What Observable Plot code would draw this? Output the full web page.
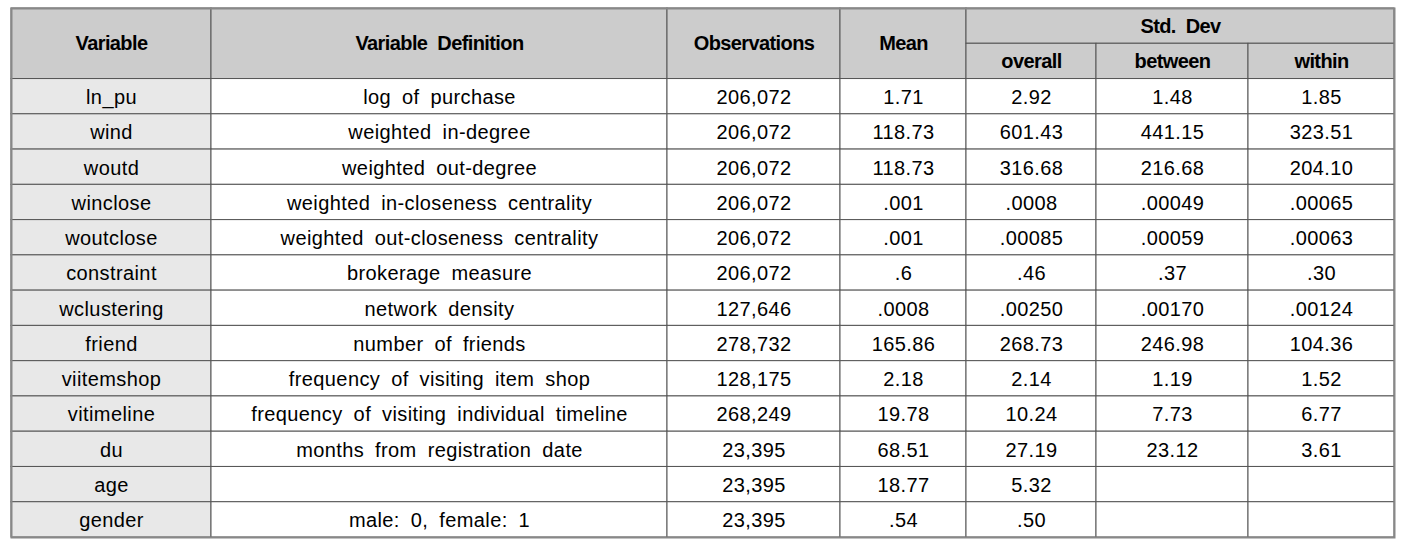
<!DOCTYPE html>
<html>
<head>
<meta charset="utf-8">
<script src="https://cdn.jsdelivr.net/npm/d3@7"></script>
<script src="https://cdn.jsdelivr.net/npm/@observablehq/plot@0.6"></script>
<style>
  html, body { margin: 0; padding: 0; background: #fff; }
  svg { display: block; }
  svg text { word-spacing: 5px; }
</style>
</head>
<body>
<div id="chart"></div>
<script>
// ---- data ----
const headerTop = ["Variable", "Variable Definition", "Observations", "Mean", "Std. Dev"];
const headerSub = ["overall", "between", "within"];
const variables = ["ln_pu", "wind", "woutd", "winclose", "woutclose", "constraint", "wclustering",
  "friend", "viitemshop", "vitimeline", "du", "age", "gender"];
const definitions = ["log of purchase", "weighted in-degree", "weighted out-degree",
  "weighted in-closeness centrality", "weighted out-closeness centrality", "brokerage measure",
  "network density", "number of friends", "frequency of visiting item shop",
  "frequency of visiting individual timeline", "months from registration date", "", "male: 0, female: 1"];
const observations = ["206,072", "206,072", "206,072", "206,072", "206,072", "206,072", "127,646",
  "278,732", "128,175", "268,249", "23,395", "23,395", "23,395"];
const means = ["1.71", "118.73", "118.73", ".001", ".001", ".6", ".0008", "165.86", "2.18", "19.78",
  "68.51", "18.77", ".54"];
const sdOverall = ["2.92", "601.43", "316.68", ".0008", ".00085", ".46", ".00250", "268.73", "2.14",
  "10.24", "27.19", "5.32", ".50"];
const sdBetween = ["1.48", "441.15", "216.68", ".00049", ".00059", ".37", ".00170", "246.98", "1.19",
  "7.73", "23.12", "", ""];
const sdWithin = ["1.85", "323.51", "204.10", ".00065", ".00063", ".30", ".00124", "104.36", "1.52",
  "6.77", "3.61", "", ""];

// ---- layout (column widths in px units, rows in row units) ----
const colWidths = [200, 456, 173, 126, 130, 152, 146];
const edges = [0];
colWidths.forEach(w => edges.push(edges[edges.length - 1] + w));
const totalW = edges[edges.length - 1];
const nRows = variables.length + 2;

const cells = [];
// header
for (let c = 0; c < 4; c++) {
  cells.push({x1: edges[c], x2: edges[c + 1], y1: 0, y2: 2, text: headerTop[c], kind: "head"});
}
cells.push({x1: edges[4], x2: edges[7], y1: 0, y2: 1, text: headerTop[4], kind: "head"});
headerSub.forEach((t, i) => cells.push({x1: edges[4 + i], x2: edges[5 + i], y1: 1, y2: 2, text: t, kind: "head"}));
// body
const columns = [variables, definitions, observations, means, sdOverall, sdBetween, sdWithin];
variables.forEach((_, r) => {
  columns.forEach((col, c) => {
    cells.push({x1: edges[c], x2: edges[c + 1], y1: r + 2, y2: r + 3, text: col[r], kind: c === 0 ? "var" : "body"});
  });
});

const fills = {head: "#cccccc", var: "#e8e8e8", body: "#ffffff"};
const cx = d => (d.x1 + d.x2) / 2;
const cy = d => (d.y1 + d.y2) / 2;

const chart = Plot.plot({
  width: 1414,
  height: 541,
  marginLeft: 11,
  marginRight: 20,
  marginTop: 8,
  marginBottom: 4,
  style: {fontFamily: "'Liberation Sans', Arial, sans-serif", background: "#fff"},
  x: {domain: [0, totalW], axis: null},
  y: {domain: [0, nRows], reverse: true, axis: null},
  marks: [
    Plot.rect(cells, {x1: "x1", x2: "x2", y1: "y1", y2: "y2", fill: d => fills[d.kind], stroke: "#555", strokeWidth: 1}),
    Plot.frame({stroke: "#888", strokeWidth: 2}),
    Plot.text(cells.filter(d => d.kind === "head"), {x: cx, y: cy, text: "text", fontSize: 20, fontWeight: "bold", fill: "#000"}),
    Plot.text(cells.filter(d => d.kind !== "head"), {x: cx, y: cy, text: "text", fontSize: 20, fill: "#000", dy: 1})
  ]
});
// letter spacing: tight for bold header text, slightly open for body text
d3.select(chart).selectAll("text").each(function () {
  const bold = this.closest('g[font-weight="bold"]') !== null;
  this.setAttribute("letter-spacing", bold ? "-0.6" : "0.4");
});
document.getElementById("chart").appendChild(chart);
</script>
</body>
</html>
